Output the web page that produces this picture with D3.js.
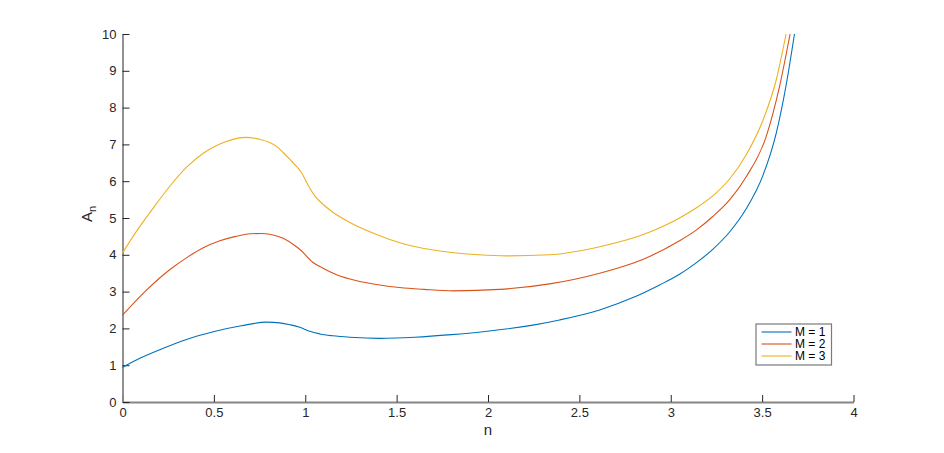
<!DOCTYPE html>
<html>
<head>
<meta charset="utf-8">
<script src="https://cdn.jsdelivr.net/npm/d3@7"></script>
<style>
  html, body { margin: 0; padding: 0; background: #fff; }
  svg { display: block; font-family: "Liberation Sans", Arial, Helvetica, sans-serif; }
</style>
</head>
<body>
<svg id="chart" width="944" height="453"></svg>
<script>
// ---- data ----
const seriesNames = ["M = 1", "M = 2", "M = 3"];
const seriesColors = ["#0072BD", "#D95319", "#EDB120"];

const n1 = [0, 0.1, 0.223, 0.35, 0.497, 0.65, 0.788, 0.86, 0.916, 0.97, 1.0, 1.025, 1.08, 1.15, 1.244, 1.408, 1.6, 1.8, 1.973, 2.246, 2.392, 2.611, 2.8, 2.939, 3.048, 3.139, 3.23, 3.322, 3.413, 3.504, 3.577, 3.631, 3.677];
const a1 = [0.94, 1.2, 1.46, 1.7, 1.91, 2.07, 2.17, 2.15, 2.10, 2.03, 1.97, 1.92, 1.85, 1.80, 1.76, 1.73, 1.76, 1.83, 1.91, 2.09, 2.23, 2.50, 2.85, 3.18, 3.47, 3.78, 4.15, 4.62, 5.25, 6.15, 7.3, 8.6, 10];

const n2 = [0, 0.123, 0.26, 0.36, 0.442, 0.533, 0.62, 0.7, 0.76, 0.806, 0.879, 0.952, 0.989, 1.0, 1.043, 1.1, 1.153, 1.244, 1.408, 1.517, 1.65, 1.809, 2.064, 2.337, 2.611, 2.85, 3.048, 3.139, 3.23, 3.322, 3.413, 3.522, 3.595, 3.653];
const a2 = [2.36, 3.0, 3.6, 3.95, 4.19, 4.38, 4.5, 4.57, 4.58, 4.56, 4.45, 4.22, 4.06, 4.0, 3.79, 3.63, 3.50, 3.34, 3.18, 3.11, 3.06, 3.02, 3.06, 3.21, 3.50, 3.88, 4.38, 4.67, 5.04, 5.49, 6.12, 7.21, 8.57, 10];

const n3 = [0, 0.078, 0.168, 0.26, 0.351, 0.442, 0.533, 0.6, 0.67, 0.75, 0.806, 0.85, 0.879, 0.92, 0.952, 0.98, 1.007, 1.052, 1.1, 1.153, 1.244, 1.408, 1.517, 1.65, 1.79, 1.95, 2.10, 2.337, 2.611, 2.85, 3.048, 3.139, 3.23, 3.322, 3.413, 3.504, 3.577, 3.631];
const a3 = [4.05, 4.65, 5.27, 5.87, 6.38, 6.76, 7.01, 7.13, 7.19, 7.14, 7.05, 6.92, 6.78, 6.57, 6.40, 6.23, 5.97, 5.6, 5.36, 5.15, 4.88, 4.52, 4.33, 4.17, 4.07, 4.0, 3.97, 4.0, 4.22, 4.55, 5.0, 5.27, 5.60, 6.06, 6.72, 7.65, 8.75, 10];

const xTicks = [0, 0.5, 1, 1.5, 2, 2.5, 3, 3.5, 4];
const yTicks = [0, 1, 2, 3, 4, 5, 6, 7, 8, 9, 10];

// ---- layout ----
const svg = d3.select("#chart");
const plotL = 122.5, plotR = 853.5, plotT = 34, plotB = 402;
const x = d3.scaleLinear().domain([0, 4]).range([plotL, plotR]);
const y = d3.scaleLinear().domain([0, 10]).range([plotB, plotT]);
const textColor = "#262626";

// axes
const xAxis = d3.axisBottom(x).tickValues(xTicks).tickFormat(d3.format("")).tickSizeInner(-7).tickSizeOuter(0).tickPadding(13);
const yAxis = d3.axisLeft(y).tickValues(yTicks).tickFormat(d3.format("")).tickSizeInner(-7).tickSizeOuter(0).tickPadding(13);

const gx = svg.append("g").attr("transform", `translate(0,${plotB})`).call(xAxis);
const gy = svg.append("g").attr("transform", `translate(${plotL},0)`).call(yAxis);

[gx, gy].forEach(g => {
  g.select(".domain").attr("stroke", "#858585").attr("stroke-width", 1.8);
  g.selectAll(".tick line").attr("stroke", textColor).attr("stroke-width", 1);
  g.selectAll(".tick text").attr("fill", textColor).attr("font-size", 13)
    .attr("font-family", "'Liberation Sans', Arial, Helvetica, sans-serif");
});
gx.selectAll(".tick text").attr("dy", "0.71em").attr("y", 6);
gy.selectAll(".tick text").attr("x", -6);

// axis labels
svg.append("text").attr("x", (plotL + plotR) / 2).attr("y", 435)
  .attr("text-anchor", "middle").attr("fill", textColor).attr("font-size", 15).text("n");

const yl = svg.append("text").attr("transform", `translate(91.7,214) rotate(-90)`)
  .attr("text-anchor", "middle").attr("fill", textColor).attr("font-size", 15);
yl.append("tspan").text("A");
yl.append("tspan").attr("font-size", 11).attr("dy", 4).text("n");

// lines
const seriesN = [n1, n2, n3];
const seriesA = [a1, a2, a3];
const line = d3.line().x(d => x(d[0])).y(d => y(d[1])).curve(d3.curveMonotoneX);

seriesN.forEach((ns, i) => {
  const pts = ns.map((v, j) => [v, seriesA[i][j]]);
  svg.append("path").datum(pts)
    .attr("fill", "none").attr("stroke", seriesColors[i]).attr("stroke-width", 1.1)
    .attr("d", line);
});

// legend
const lg = svg.append("g");
lg.append("rect").attr("x", 756).attr("y", 324).attr("width", 75.5).attr("height", 41)
  .attr("fill", "#fff").attr("stroke", "#7a7a7a").attr("stroke-width", 1.2);
seriesNames.forEach((name, i) => {
  const cy = 332 + i * 12;
  lg.append("line").attr("x1", 761.5).attr("x2", 791.5).attr("y1", cy).attr("y2", cy)
    .attr("stroke", seriesColors[i]).attr("stroke-width", 1.1);
  lg.append("text").attr("x", 795).attr("y", cy).attr("dy", "0.36em")
    .attr("font-size", 12).attr("fill", "#000").text(name);
});
</script>
</body>
</html>
